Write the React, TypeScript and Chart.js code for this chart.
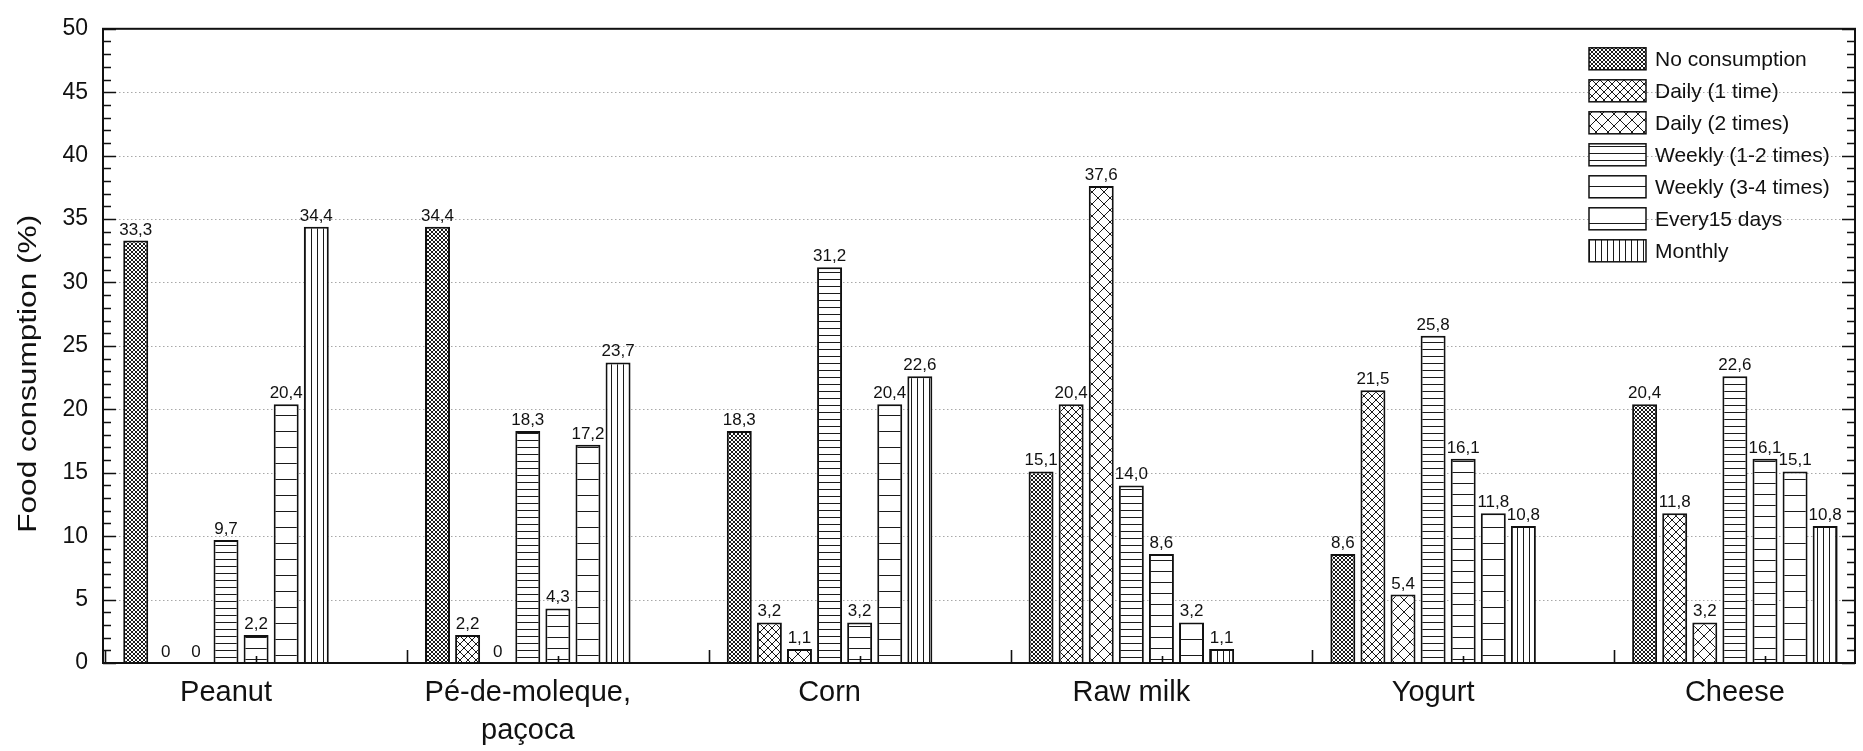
import React, { useEffect, useRef } from 'react';
import { Chart, registerables } from 'chart.js';

Chart.register(...registerables);

// ---------- data ----------
const categories: (string | string[])[] = [
  'Peanut',
  ['Pé-de-moleque,', 'paçoca'],
  'Corn',
  'Raw milk',
  'Yogurt',
  'Cheese',
];
const seriesNames = [
  'No consumption',
  'Daily (1 time)',
  'Daily (2 times)',
  'Weekly (1-2 times)',
  'Weekly (3-4 times)',
  'Every15 days',
  'Monthly',
];
const noConsumption = [33.3, 34.4, 18.3, 15.1, 8.6, 20.4];
const daily1 = [0, 2.2, 3.2, 20.4, 21.5, 11.8];
const daily2 = [0, 0, 1.1, 37.6, 5.4, 3.2];
const weekly12 = [9.7, 18.3, 31.2, 14.0, 25.8, 22.6];
const weekly34 = [2.2, 4.3, 3.2, 8.6, 16.1, 16.1];
const every15 = [20.4, 17.2, 20.4, 3.2, 11.8, 15.1];
const monthly = [34.4, 23.7, 22.6, 1.1, 10.8, 10.8];
const seriesValues = [noConsumption, daily1, daily2, weekly12, weekly34, every15, monthly];

const yTitle = 'Food consumption (%)';
const yMin = 0;
const yMax = 50;
const yStep = 5;

// ---------- styles ----------
const FONT = "'Liberation Sans', Arial, Helvetica, sans-serif";
const INK = '#111111';
const patternSpecs: [string, number][] = [
  ['cross', 4],
  ['cross', 8],
  ['cross', 12],
  ['h', 7],
  ['h', 11],
  ['h', 16],
  ['v', 6],
];

function makePattern(kind: string, p: number): CanvasPattern | string {
  const c = document.createElement('canvas');
  let w = p, h = p;
  if (kind === 'cross') { w = p * 4; h = p * 4; }
  if (kind === 'h') { w = 8; h = p; }
  if (kind === 'v') { w = p; h = 8; }
  c.width = w; c.height = h;
  const g = c.getContext('2d')!;
  g.fillStyle = '#ffffff';
  g.fillRect(0, 0, w, h);
  g.strokeStyle = '#1a1a1a';
  g.lineWidth = 1;
  g.beginPath();
  if (kind === 'cross') {
    for (let m = -6; m <= 10; m++) {
      g.moveTo(m * p, 0); g.lineTo(m * p + h, h);
      g.moveTo(m * p, 0); g.lineTo(m * p - h, h);
    }
  } else if (kind === 'h') {
    g.moveTo(0, h - 0.5); g.lineTo(w, h - 0.5);
  } else {
    g.moveTo(w - 0.5, 0); g.lineTo(w - 0.5, h);
  }
  g.stroke();
  const pat = g.createPattern(c, 'repeat');
  return pat || '#ffffff';
}

function fmt(v: number): string {
  return v === 0 ? '0' : v.toFixed(1).replace('.', ',');
}

export default function App() {
  const ref = useRef<HTMLCanvasElement | null>(null);

  useEffect(() => {
    document.body.style.margin = '0';
    const canvas = ref.current;
    if (!canvas) return;
    const patterns = patternSpecs.map(([k, p]) => makePattern(k, p));

    const gridPlugin = {
      id: 'dottedGrid',
      beforeDatasetsDraw(chart: any) {
        const { ctx, chartArea } = chart;
        const ys = chart.scales.y;
        ctx.save();
        ctx.strokeStyle = '#a8a8a8';
        ctx.lineWidth = 1;
        ctx.setLineDash([1.5, 2.5]);
        ys.ticks.forEach((t: any) => {
          if (t.value <= yMin || t.value >= yMax) return;
          const py = Math.round(ys.getPixelForValue(t.value)) + 0.5;
          ctx.beginPath();
          ctx.moveTo(chartArea.left, py);
          ctx.lineTo(chartArea.right, py);
          ctx.stroke();
        });
        ctx.restore();
      },
    };

    const framePlugin = {
      id: 'frameTicks',
      afterDatasetsDraw(chart: any) {
        const { ctx, chartArea } = chart;
        const ys = chart.scales.y;
        const xs = chart.scales.x;
        const { left, right, top, bottom } = chartArea;
        ctx.save();
        ctx.strokeStyle = INK;
        ctx.setLineDash([]);
        ctx.lineWidth = 2;
        ctx.strokeRect(left, top, right - left, bottom - top);
        ctx.lineWidth = 1.6;
        ctx.beginPath();
        for (let v = yMin; v <= yMax; v += 1) {
          const py = Math.round(ys.getPixelForValue(v)) + 0.5;
          const len = v % yStep === 0 ? 13 : 8;
          ctx.moveTo(left, py); ctx.lineTo(left + len, py);
          ctx.moveTo(right, py); ctx.lineTo(right - len, py);
        }
        for (let i = 0; i <= categories.length; i++) {
          const a = xs.getPixelForValue(i - 0.4);
          const b = xs.getPixelForValue(i + 0.1);
          if (a > left + 2 && a < right - 2) { ctx.moveTo(Math.round(a) + 0.5, bottom); ctx.lineTo(Math.round(a) + 0.5, bottom - 13); }
          if (b > left + 2 && b < right - 2) { ctx.moveTo(Math.round(b) + 0.5, bottom); ctx.lineTo(Math.round(b) + 0.5, bottom - 7); }
        }
        ctx.stroke();
        ctx.restore();
      },
    };

    const valueLabelPlugin = {
      id: 'valueLabels',
      afterDatasetsDraw(chart: any) {
        const { ctx } = chart;
        ctx.save();
        ctx.font = `17px ${FONT}`;
        ctx.fillStyle = INK;
        ctx.textAlign = 'center';
        ctx.textBaseline = 'alphabetic';
        chart.data.datasets.forEach((ds: any, di: number) => {
          const meta = chart.getDatasetMeta(di);
          meta.data.forEach((el: any, i: number) => {
            const v = seriesValues[di][i];
            ctx.fillText(fmt(v), el.x, el.y - 6);
          });
        });
        ctx.restore();
      },
    };

    const legendPlugin = {
      id: 'innerLegend',
      afterDraw(chart: any) {
        const { ctx, chartArea } = chart;
        const bx = chartArea.right - 266;
        const by = chartArea.top + 19;
        ctx.save();
        ctx.font = `21px ${FONT}`;
        ctx.textBaseline = 'middle';
        ctx.textAlign = 'left';
        seriesNames.forEach((name, i) => {
          const y = by + i * 32;
          ctx.fillStyle = patterns[i] as any;
          ctx.fillRect(bx, y, 57, 22);
          ctx.strokeStyle = INK;
          ctx.lineWidth = 1.5;
          ctx.strokeRect(bx, y, 57, 22);
          ctx.fillStyle = INK;
          ctx.fillText(name, bx + 66, y + 12);
        });
        ctx.restore();
      },
    };

    const yTitlePlugin = {
      id: 'yTitle',
      afterDraw(chart: any) {
        const { ctx, chartArea } = chart;
        ctx.save();
        ctx.font = `25px ${FONT}`;
        const w = ctx.measureText(yTitle).width;
        const target = 318;
        ctx.translate(chartArea.left - 74, chartArea.top + 345);
        ctx.rotate(-Math.PI / 2);
        ctx.scale(target / w, 1);
        ctx.fillStyle = INK;
        ctx.textAlign = 'center';
        ctx.textBaseline = 'middle';
        ctx.fillText(yTitle, 0, 0);
        ctx.restore();
      },
    };

    const chart = new Chart(canvas, {
      type: 'bar',
      data: {
        datasets: seriesNames.map((name, di) => ({
          label: name,
          data: seriesValues[di].map((v, i) => ({ x: i, y: v })),
          backgroundColor: patterns[di] as any,
          borderColor: INK,
          borderWidth: 2,
          categoryPercentage: 0.698,
          barPercentage: 0.83,
        })),
      },
      options: {
        responsive: false,
        devicePixelRatio: 1,
        animation: false,
        layout: { padding: { top: 21, right: 8, left: 0, bottom: 0 } },
        plugins: {
          legend: { display: false },
          tooltip: { enabled: false },
          title: { display: false },
        },
        scales: {
          x: {
            type: 'linear',
            min: -0.4076,
            max: 5.398,
            offset: false,
            grid: { display: false, drawTicks: false },
            border: { display: false },
            afterBuildTicks: (axis: any) => {
              axis.ticks = categories.map((_, i) => ({ value: i }));
            },
            afterFit: (axis: any) => { axis.height = 88; },
            ticks: {
              autoSkip: false,
              maxRotation: 0,
              padding: 11,
              color: INK,
              font: { family: FONT, size: 29, lineHeight: 1.3 },
              callback: (_v: any, idx: number) => categories[idx] as any,
            },
          },
          y: {
            min: yMin,
            max: yMax,
            grid: { display: false, drawTicks: false },
            border: { display: false },
            afterFit: (axis: any) => { axis.width = 103; },
            ticks: {
              stepSize: yStep,
              padding: 15,
              color: INK,
              font: { family: FONT, size: 23 },
            },
          },
        },
      } as any,
      plugins: [gridPlugin, framePlugin, valueLabelPlugin, legendPlugin, yTitlePlugin],
    });
    return () => chart.destroy();
  }, []);

  return (
    <div style={{ width: 1863, height: 751, background: '#ffffff' }}>
      <canvas ref={ref} width={1863} height={751} style={{ display: 'block' }} />
    </div>
  );
}
